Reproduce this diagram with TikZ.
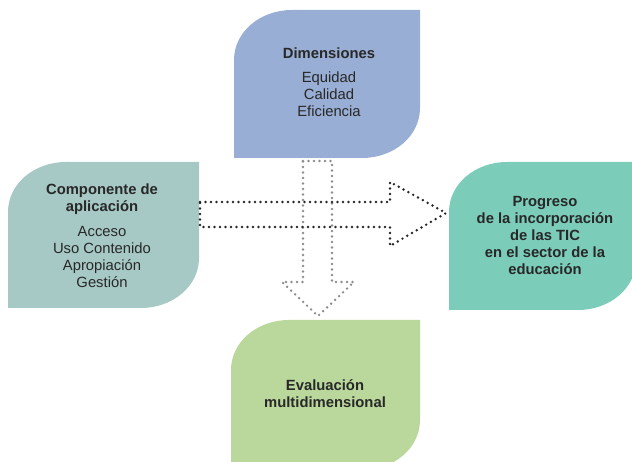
\documentclass[tikz,border=0pt]{standalone}
\usepackage{fontspec}
\setmainfont{Liberation Sans}
\definecolor{dimcol}{RGB}{153,174,212}
\definecolor{compcol}{RGB}{166,201,197}
\definecolor{progcol}{RGB}{124,204,186}
\definecolor{evalcol}{RGB}{186,216,156}
\definecolor{txtcol}{RGB}{40,40,40}
\newcommand\leafshape[5]{%
\fill[#5] (#1,#4) -- (#1,{#2+50}) .. controls (#1,{#2+22}) and ({#1+26},#2) .. ({#1+58},#2) -- (#3,#2) -- (#3,{#4-50}) .. controls (#3,{#4-22}) and ({#3-26},#4) .. ({#3-58},#4) -- cycle;}
\begin{document}
\begin{tikzpicture}[x=1pt,y=-1pt,
  txt/.style={text=txtcol,align=center,font=\fontsize{14.8}{17}\selectfont,inner sep=0pt},
  ttl/.style={txt,font=\fontsize{14.8}{17}\selectfont\bfseries},
  dotline/.style={line width=2.7pt,line cap=round,dash pattern=on 0pt off 5.5pt},
  blackdots/.style={dotline,draw=black!85},
  graydots/.style={dotline,draw=black!45}]
\useasboundingbox (0,0) rectangle (632,462);
\leafshape{234}{10}{420}{158}{dimcol}
\leafshape{8}{162}{199}{308}{compcol}
\leafshape{449}{162}{636}{310}{progcol}
\leafshape{231}{320}{420}{470}{evalcol}
% arrows
\draw[graydots] (303,161) -- (332,161) -- (332,282) -- (354,282) -- (318,316) -- (282,282) -- (303,282) -- cycle;
\draw[blackdots] (200,202) -- (390,202) -- (390,182) -- (446,213) -- (390,246) -- (390,227) -- (200,227) -- cycle;
% texts
\node[ttl] (dimt) at (329,53) {Dimensiones};
\node[txt] (dimb) at (329,94) {Equidad\\Calidad\\Eficiencia};
\node[ttl] (compt) at (102,199.5) {Componente de\\aplicación};
\node[txt] (compb) at (102,257) {Acceso\\Uso Contenido\\Apropiación\\Gestión};
\node[ttl] (prog) at (545,235.5) {Progreso\\de la incorporación\\de las TIC\\en el sector de la\\educación};
\node[ttl] (eval) at (325,393.5) {Evaluación\\multidimensional};
\end{tikzpicture}
\end{document}
